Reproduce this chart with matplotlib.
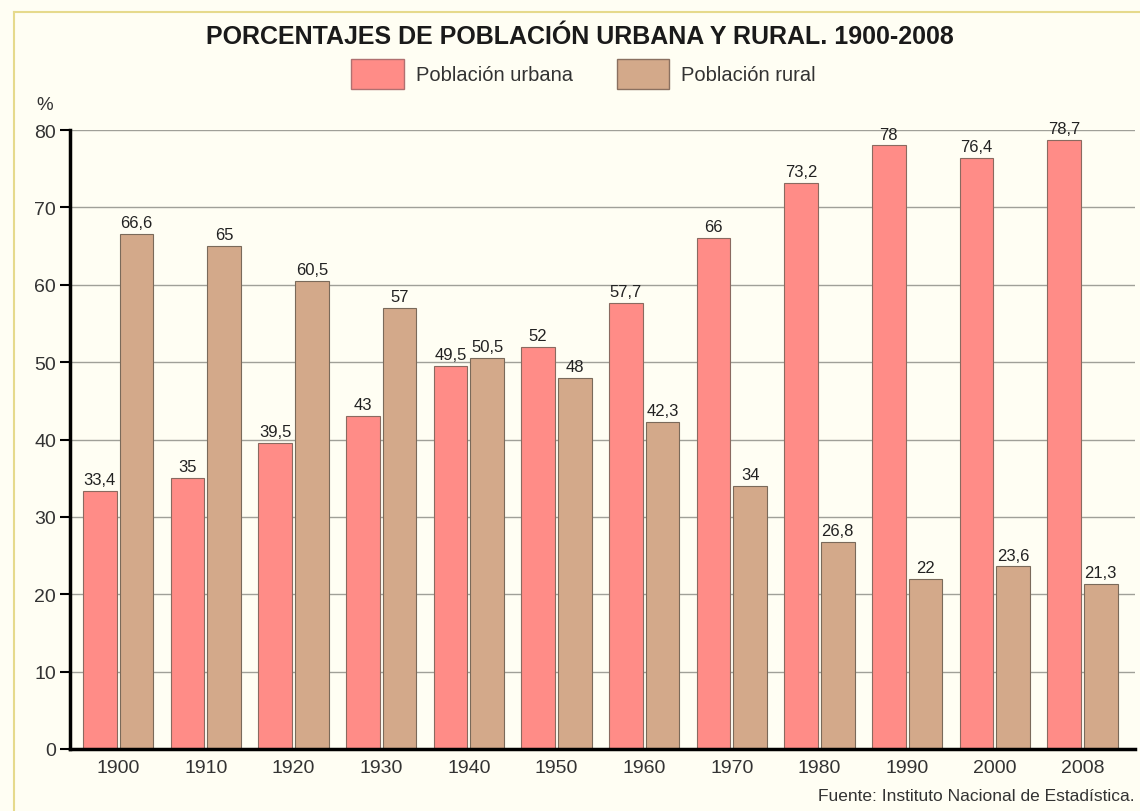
import numpy as np
import matplotlib.pyplot as plt
from matplotlib.lines import Line2D
from matplotlib.patches import Patch

years = ['1900', '1910', '1920', '1930', '1940', '1950', '1960', '1970', '1980', '1990', '2000', '2008']
urbana = [33.4, 35, 39.5, 43, 49.5, 52, 57.7, 66, 73.2, 78, 76.4, 78.7]
rural = [66.6, 65, 60.5, 57, 50.5, 48, 42.3, 34, 26.8, 22, 23.6, 21.3]
yticks = [0, 10, 20, 30, 40, 50, 60, 70, 80]

c_urb = '#FF8C87'
c_rur = '#D3A98A'
bg = '#FFFEF3'

plt.rcParams['font.family'] = ['Liberation Sans', 'DejaVu Sans']

fig = plt.figure(figsize=(11.4, 8.12), dpi=100, facecolor=bg)
ax = fig.add_axes([70 / 1140, 62 / 812, 1065 / 1140, 619 / 812])
ax.set_facecolor(bg)

# marco amarillo
fig.add_artist(Line2D([14 / 1140, 14 / 1140], [0, 1 - 13 / 812], color='#E6DA8C', lw=1.5))
fig.add_artist(Line2D([14 / 1140, 1], [1 - 13 / 812, 1 - 13 / 812], color='#E6DA8C', lw=1.5))

x = np.arange(len(years))
w = 0.385
b1 = ax.bar(x - w / 2 - 0.017, urbana, w, color=c_urb, edgecolor='#8a6a60', lw=0.8, zorder=2)
b2 = ax.bar(x + w / 2 + 0.017, rural, w, color=c_rur, edgecolor='#7a6a5a', lw=0.8, zorder=2)

def fmt(v):
    s = ('%g' % v).replace('.', ',')
    return s

for rect, v in zip(list(b1) + list(b2), urbana + rural):
    ax.text(rect.get_x() + rect.get_width() / 2, v + 0.5, fmt(v), ha='center', va='bottom',
            fontsize=12, color='#222222', clip_on=False)

ax.set_xlim(-0.55, 11.6)
ax.set_ylim(0, 80)
ax.set_yticks(yticks)
ax.set_xticks(x)
ax.set_xticklabels(years)
ax.grid(axis='y', color='#a0a098', lw=1.0, zorder=0)
ax.set_axisbelow(True)
for s in ['top', 'right']:
    ax.spines[s].set_visible(False)
ax.spines['left'].set_linewidth(2.5)
ax.spines['bottom'].set_linewidth(2.5)
ax.tick_params(axis='y', length=7, width=1.5, labelsize=14, labelcolor='#333333', pad=3)
ax.tick_params(axis='x', length=0, labelsize=14, labelcolor='#333333', pad=7)

fig.text(45 / 1140, 1 - 105 / 812, '%', ha='center', va='center', fontsize=13.5, color='#333333')

fig.text(0.509, 1 - 37 / 812, 'PORCENTAJES DE POBLACIÓN URBANA Y RURAL. 1900-2008',
         ha='center', va='center', fontsize=18, fontweight='bold', color='#1a1a1a')

handles = [Patch(facecolor=c_urb, edgecolor='#b07070', label='Población urbana'),
           Patch(facecolor=c_rur, edgecolor='#8a7060', label='Población rural')]
fig.legend(handles=handles, loc='center', bbox_to_anchor=(0.512, 1 - 75 / 812), ncol=2,
           frameon=False, fontsize=14.5, handlelength=2.6, handleheight=1.9,
           handletextpad=0.6, columnspacing=2.2, labelcolor='#333333')

fig.text(1135 / 1140, 1 - 797 / 812, 'Fuente: Instituto Nacional de Estadística.',
         ha='right', va='center', fontsize=12.5, color='#333333')

fig.savefig('out.png', dpi=100, facecolor=bg)
